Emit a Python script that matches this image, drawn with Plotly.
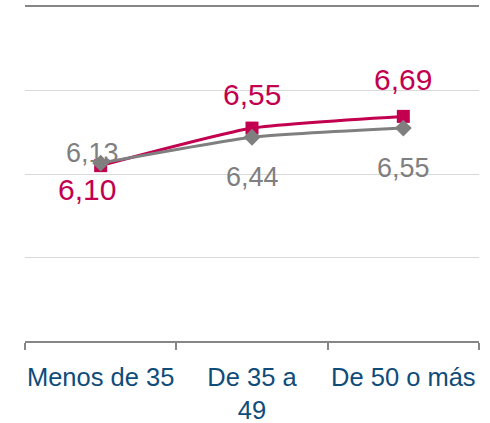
import plotly.graph_objects as go

categories = ["Menos de 35", "De 35 a<br>49", "De 50 o más"]
serie_rosa = [6.10, 6.55, 6.69]
serie_gris = [6.13, 6.44, 6.55]
etiquetas_rosa = ["6,10", "6,55", "6,69"]
etiquetas_gris = ["6,13", "6,44", "6,55"]

ROSA = "#C2004F"
GRIS = "#7F7F7F"
FONT = "Liberation Sans, Arial, sans-serif"

fig = go.Figure()
fig.add_trace(go.Scatter(
    x=categories, y=serie_rosa, mode="lines+markers",
    line=dict(color=ROSA, width=3, shape="spline", smoothing=0.5),
    marker=dict(symbol="square", size=13, color=ROSA),
    hoverinfo="skip", showlegend=False))
fig.add_trace(go.Scatter(
    x=categories, y=serie_gris, mode="lines+markers",
    line=dict(color=GRIS, width=3, shape="spline", smoothing=0.5),
    marker=dict(symbol="diamond", size=13, color=GRIS),
    hoverinfo="skip", showlegend=False))

# label offsets (style only)
rosa_off = [(-14, -24), (0, 34), (0, 37)]
gris_off = [(-8, 10), (0, -40), (0, -40)]
for c, v, t, (dx, dy) in zip(categories, serie_rosa, etiquetas_rosa, rosa_off):
    fig.add_annotation(x=c, y=v, text=t, showarrow=False, xshift=dx, yshift=dy,
                       font=dict(family=FONT, size=30, color=ROSA))
for c, v, t, (dx, dy) in zip(categories, serie_gris, etiquetas_gris, gris_off):
    fig.add_annotation(x=c, y=v, text=t, showarrow=False, xshift=dx, yshift=dy,
                       font=dict(family=FONT, size=27, color=GRIS))

fig.update_layout(
    width=490, height=423,
    margin=dict(l=25, r=11, t=7, b=82, autoexpand=False),
    paper_bgcolor="white", plot_bgcolor="white",
    font=dict(family=FONT),
    xaxis=dict(
        type="category", showgrid=False, zeroline=False, automargin=False,
        showline=True, linecolor="#868686", linewidth=2, mirror=True,
        ticks="outside", tickson="boundaries", ticklen=7, tickwidth=2,
        tickcolor="#868686", tickangle=0,
        tickfont=dict(family=FONT, size=25.5, color="#0F4C7A"),
        ticklabelstandoff=12,
        range=[-0.5, 2.5]),
    yaxis=dict(
        range=[4, 8], dtick=1, showticklabels=False, showgrid=True,
        gridcolor="#D9D9D9", gridwidth=1, zeroline=False, showline=False,
        automargin=False, ticks=""),
)

fig.write_html("out.html", config={"displayModeBar": False},
               post_script="document.body.style.margin='0';")
